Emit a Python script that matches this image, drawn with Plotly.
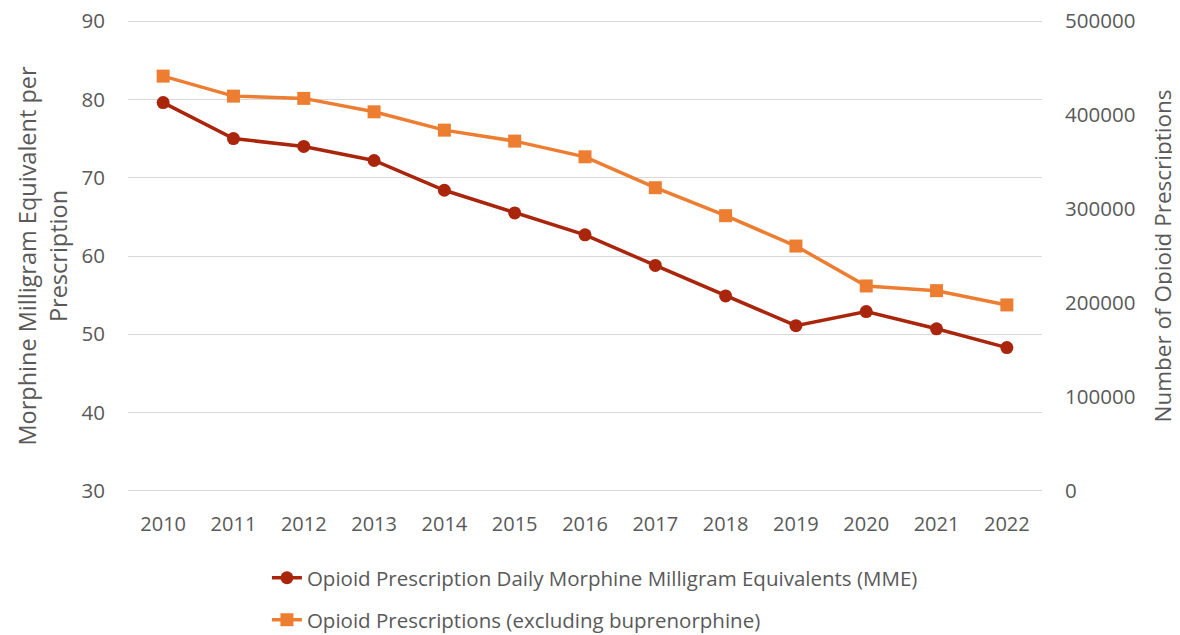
import plotly.graph_objects as go

years = ["2010", "2011", "2012", "2013", "2014", "2015", "2016", "2017", "2018", "2019", "2020", "2021", "2022"]
mme = [79.6, 75.0, 74.0, 72.2, 68.4, 65.5, 62.7, 58.8, 54.9, 51.1, 52.9, 50.7, 48.3]
prescriptions = [441500, 420200, 417800, 403500, 384000, 372300, 355600, 322700, 292900, 260600, 218100, 213100, 197900]
left_ticks = [30, 40, 50, 60, 70, 80, 90]
right_ticks = [0, 100000, 200000, 300000, 400000, 500000]

name_mme = "Opioid Prescription Daily Morphine Milligram Equivalents (MME)"
name_rx = "Opioid Prescriptions (excluding buprenorphine)"

RED = "#A9260C"
ORANGE = "#ED7D31"
TXT = "#595959"
FONT = "Open Sans"

# small padding so the boundary gridlines (30 and 90) are drawn
pad_left = 0.15
pad_right = pad_left / 60 * 500000

fig = go.Figure()
fig.add_trace(go.Scatter(
    x=years, y=mme, name=name_mme, mode="lines+markers",
    line=dict(color=RED, width=3.5),
    marker=dict(symbol="circle", size=13, color=RED),
    legend="legend", yaxis="y",
))
fig.add_trace(go.Scatter(
    x=years, y=prescriptions, name=name_rx, mode="lines+markers",
    line=dict(color=ORANGE, width=3.5),
    marker=dict(symbol="square", size=13, color=ORANGE),
    legend="legend2", yaxis="y2",
))

legend_common = dict(
    orientation="v", xanchor="left", yanchor="middle",
    font=dict(size=20.5, color=TXT, family=FONT),
    bgcolor="rgba(0,0,0,0)",
)

fig.update_layout(
    width=1180, height=635,
    margin=dict(l=120, r=146, t=12, b=151, autoexpand=False),
    paper_bgcolor="white", plot_bgcolor="white",
    font=dict(family=FONT, color=TXT, size=20),
    showlegend=True,
    legend=dict(x=0.152, y=-0.182, **legend_common),
    legend2=dict(x=0.152, y=-0.271, **legend_common),
    xaxis=dict(
        type="category", range=[-0.5, 12.5], automargin=False,
        showgrid=False, showline=False, zeroline=False,
        ticks="outside", ticklen=14, tickcolor="rgba(0,0,0,0)",
        tickfont=dict(size=20, color=TXT, family=FONT),
        ticklabeloverflow="allow",
    ),
    yaxis=dict(
        range=[left_ticks[0] - pad_left, left_ticks[-1] + pad_left],
        tickvals=left_ticks, automargin=False,
        showgrid=True, gridcolor="#D9D9D9", gridwidth=1.3,
        zeroline=False, showline=False,
        ticks="outside", ticklen=18, tickcolor="rgba(0,0,0,0)",
        tickfont=dict(size=20.5, color=TXT, family=FONT),
        ticklabeloverflow="allow",
        title=dict(text="Morphine Milligram Equivalent per<br>Prescription",
                   font=dict(size=23.5, color=TXT, family=FONT), standoff=7),
    ),
    yaxis2=dict(
        range=[right_ticks[0] - pad_right, right_ticks[-1] + pad_right],
        tickvals=right_ticks, ticktext=[str(v) for v in right_ticks],
        overlaying="y", side="right", automargin=False,
        showgrid=False, zeroline=False, showline=False,
        ticks="outside", ticklen=18, tickcolor="rgba(0,0,0,0)",
        tickfont=dict(size=20.5, color=TXT, family=FONT),
        ticklabeloverflow="allow",
        title=dict(text="Number of Opioid Prescriptions",
                   font=dict(size=22.5, color=TXT, family=FONT), standoff=20),
    ),
)

fig.write_html("out.html")
